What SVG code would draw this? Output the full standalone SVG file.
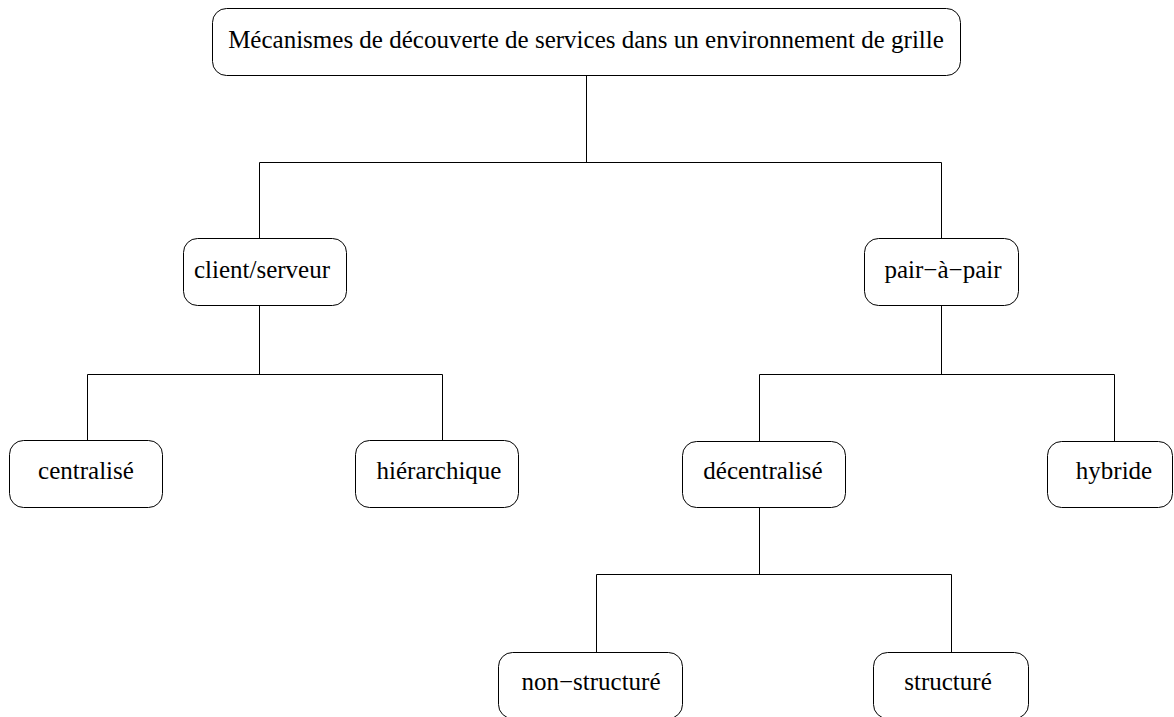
<svg xmlns="http://www.w3.org/2000/svg" width="1174" height="717" viewBox="0 0 1174 717">
<style>
rect.box { fill: #fff; stroke: #000; stroke-width: 1; }
text { font-family: 'Liberation Serif', 'DejaVu Serif', serif; font-size: 25px; fill: #000; text-anchor: middle; }
.conn path { fill: none; stroke: #000; stroke-width: 1; }
</style>
<rect width="1174" height="717" fill="#fff"/>
<g class="conn" id="connectors">
<path d="M586.5,75 V162.5 M259.5,162.5 H941.5 M259.5,162.5 V238 M941.5,162.5 V238"/>
<path d="M259.5,306 V374.5 M87.5,374.5 H442.5 M87.5,374.5 V440 M442.5,374.5 V440"/>
<path d="M941.5,306 V374.5 M759.5,374.5 H1114.5 M759.5,374.5 V441 M1114.5,374.5 V441"/>
<path d="M759.5,507 V574.5 M596.5,574.5 H951.5 M596.5,574.5 V652 M951.5,574.5 V652"/>
</g>
<g id="root">
<rect class="box" x="212.5" y="8.5" width="748" height="67" rx="14"/>
<text x="586" y="48" font-family="Liberation Serif, serif">Mécanismes de découverte de services dans un environnement de grille</text>
</g>
<g id="client-serveur">
<rect class="box" x="183.5" y="238.5" width="163" height="67" rx="14"/>
<text x="262" y="278">client/serveur</text>
</g>
<g id="pair-a-pair">
<rect class="box" x="864.5" y="238.5" width="154" height="67" rx="14"/>
<text x="943" y="278">pair−à−pair</text>
</g>
<g id="centralise">
<rect class="box" x="9.5" y="440.5" width="153" height="67" rx="14"/>
<text x="86" y="479">centralisé</text>
</g>
<g id="hierarchique">
<rect class="box" x="355.5" y="440.5" width="163" height="67" rx="14"/>
<text x="439" y="479">hiérarchique</text>
</g>
<g id="decentralise">
<rect class="box" x="682.5" y="441.5" width="163" height="66" rx="14"/>
<text x="763" y="479">décentralisé</text>
</g>
<g id="hybride">
<rect class="box" x="1047.5" y="441.5" width="125" height="66" rx="14"/>
<text x="1114" y="479">hybride</text>
</g>
<g id="non-structure">
<rect class="box" x="498.5" y="652.5" width="184" height="66" rx="14"/>
<text x="591" y="690">non−structuré</text>
</g>
<g id="structure">
<rect class="box" x="873.5" y="652.5" width="155" height="66" rx="14"/>
<text x="948" y="690">structuré</text>
</g>
</svg>
